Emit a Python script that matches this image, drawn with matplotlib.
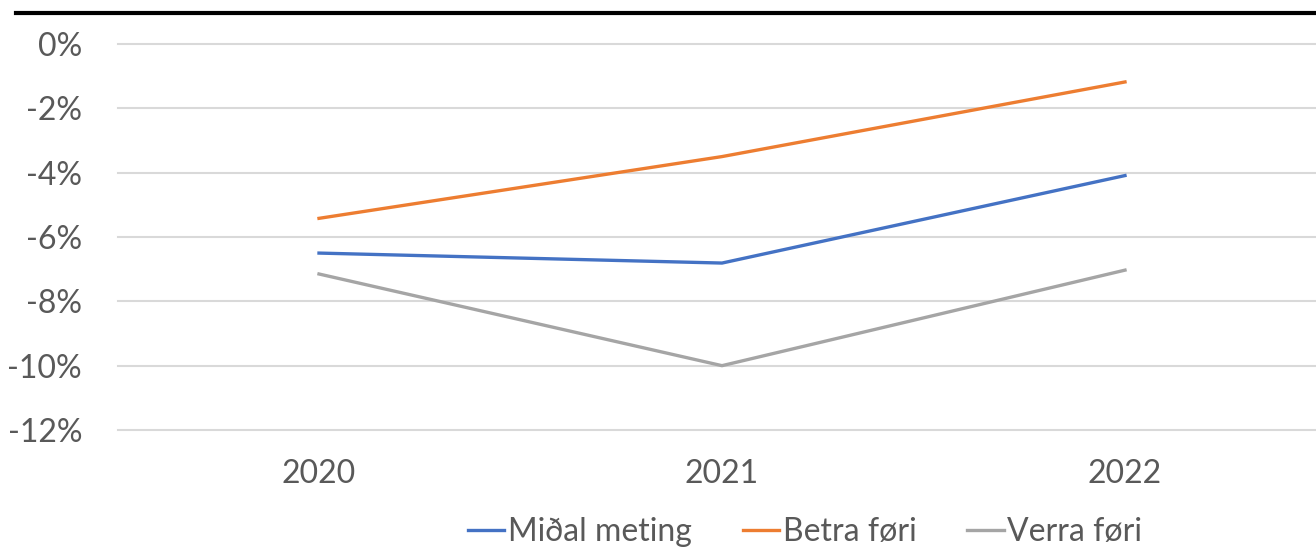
import matplotlib
matplotlib.use('Agg')
import matplotlib.pyplot as plt
from matplotlib.lines import Line2D
from matplotlib.ticker import FuncFormatter

years = ["2020", "2021", "2022"]
midal = [-6.5, -6.81, -4.09]
betra = [-5.42, -3.5, -1.18]
verra = [-7.15, -10.0, -7.03]
yticks = [0, -2, -4, -6, -8, -10, -12]

plt.rcParams['font.family'] = ['Lato', 'DejaVu Sans']
txt = '#595959'

W, H = 1316, 548
fig = plt.figure(figsize=(W / 100, H / 100), dpi=100)
ax = fig.add_axes([117.5 / W, 1 - 430 / H, 1209 / W, 386 / H])

x = range(len(years))
ax.plot(x, midal, color='#4472C4', lw=2.4, label='Miðal meting', solid_joinstyle='round')
ax.plot(x, betra, color='#ED7D31', lw=2.4, label='Betra føri', solid_joinstyle='round')
ax.plot(x, verra, color='#A5A5A5', lw=2.4, label='Verra føri', solid_joinstyle='round')

ax.set_xlim(-0.5, 2.5)
ax.set_ylim(-12, 0)
ax.set_xticks(list(x))
ax.set_xticklabels(years)
ax.set_yticks(yticks)
ax.yaxis.set_major_formatter(FuncFormatter(lambda v, p: f"{v:.0f}%"))
ax.tick_params(length=0, labelsize=23, colors=txt)
ax.tick_params(axis='y', pad=25.5)
ax.tick_params(axis='x', pad=21)
for s in ax.spines.values():
    s.set_visible(False)
ax.grid(axis='y', color='#D9D9D9', lw=1.5)
for gl in ax.get_ygridlines():
    gl.set_clip_on(False)
ax.set_axisbelow(True)

leg = fig.legend(loc='center', bbox_to_anchor=(805 / W, 1 - 532 / H), ncol=3,
                 frameon=False, fontsize=23, handlelength=1.15, handletextpad=0.1,
                 columnspacing=1.6, labelcolor=txt)

# black rule under the (cropped) title
fig.add_artist(Line2D([16 / W, 1], [1 - 13 / H, 1 - 13 / H], color='black', lw=3,
                      transform=fig.transFigure))

fig.savefig('out.png', dpi=100)
